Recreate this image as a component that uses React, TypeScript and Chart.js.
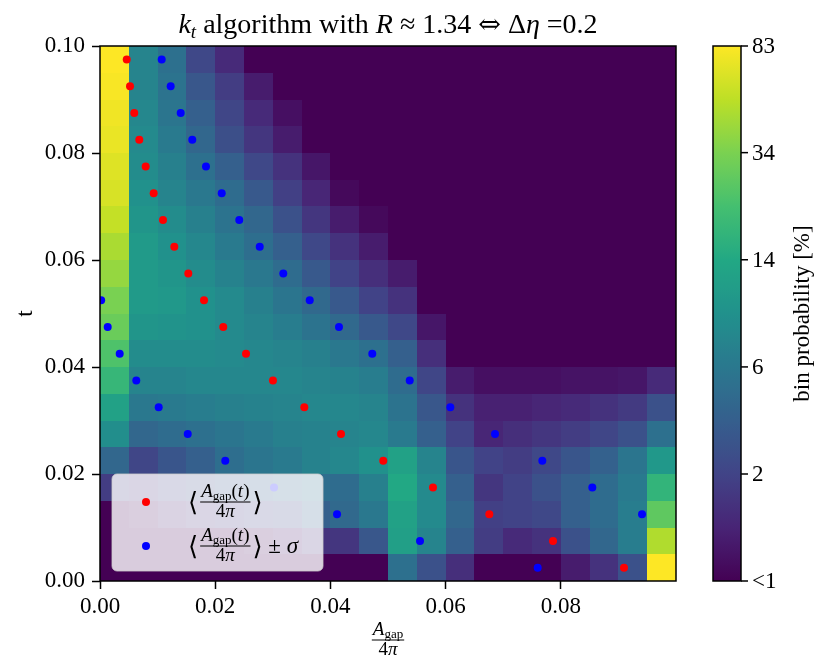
import React, { useEffect, useRef } from "react";
import { Chart, registerables } from "chart.js";

Chart.register(...registerables);

const SERIF = '"Liberation Serif", "DejaVu Serif", serif';

// bin edges of A_gap/4pi (x) and of t (y)
const aEdges = [
  0, 0.005, 0.01, 0.015, 0.02, 0.025, 0.03, 0.035, 0.04, 0.045, 0.05, 0.055,
  0.06, 0.065, 0.07, 0.075, 0.08, 0.085, 0.09, 0.095, 0.1,
];
const tEdges = [
  0, 0.005, 0.01, 0.015, 0.02, 0.025, 0.03, 0.035, 0.04, 0.045, 0.05, 0.055,
  0.06, 0.065, 0.07, 0.075, 0.08, 0.085, 0.09, 0.095, 0.1,
];

// t at the centre of each row, bottom to top
const tCenters = [
  0.0025, 0.0075, 0.0125, 0.0175, 0.0225, 0.0275, 0.0325, 0.0375, 0.0425,
  0.0475, 0.0525, 0.0575, 0.0625, 0.0675, 0.0725, 0.0775, 0.0825, 0.0875,
  0.0925, 0.0975,
];

// <A_gap(t)/4pi>
const meanA = [
  0.09097, 0.07865, 0.06759, 0.05781, 0.04918, 0.04184, 0.03547, 0.03003,
  0.02535, 0.0214, 0.01806, 0.01533, 0.0129, 0.01094, 0.00932, 0.00793,
  0.00682, 0.00595, 0.00521, 0.00464,
];
// <A_gap(t)/4pi> + sigma (null = outside the plot)
const upperA = [
  null, null, 0.0941, 0.08547, 0.07679, 0.06858, 0.06082, 0.05377, 0.04727,
  0.04149, 0.03641, 0.03182, 0.02773, 0.02418, 0.02113, 0.0184, 0.01602,
  0.01401, 0.01227, 0.01071,
];
// <A_gap(t)/4pi> - sigma (null = outside the plot)
const lowerA = [
  0.07599, 0.05556, 0.04115, 0.03021, 0.02175, 0.01523, 0.01019, 0.0063,
  0.00342, 0.00134, 0.0002, null, null, null, null, null, null, null, null,
  null,
];

// bin probability [%], one row per t bin, bottom to top
const binProb = [
  [0, 0, 0, 0, 0, 0, 0, 0, 0, 0, 5.1, 3.0, 1.8, 0, 0, 0, 1.4, 1.9, 3.0, 83],
  [0, 0, 0, 0, 0, 1.2, 1.4, 1.9, 2.0, 3.3, 11.9, 7.3, 3.8, 2.2, 1.7, 1.9, 3.0, 4.3, 6.4, 49],
  [0, 1.2, 1.6, 1.9, 2.1, 2.3, 2.6, 3.8, 4.5, 5.9, 12.4, 8.0, 4.3, 2.3, 2.4, 2.6, 3.8, 4.7, 6.4, 27.5],
  [2.2, 1.9, 2.4, 2.8, 3.2, 3.6, 4.1, 4.9, 4.7, 6.7, 14.2, 8.0, 3.8, 2.0, 2.4, 3.0, 3.8, 4.7, 6.1, 17.7],
  [4.3, 2.5, 3.2, 3.8, 4.9, 5.6, 6.1, 7.0, 7.6, 9.1, 12.4, 7.3, 3.2, 2.4, 2.2, 2.6, 3.2, 3.9, 5.6, 10.4],
  [8.7, 4.3, 4.7, 5.1, 5.6, 6.1, 6.7, 7.0, 7.3, 7.6, 6.1, 3.8, 2.4, 1.6, 1.8, 2.0, 2.2, 2.5, 3.0, 5.1],
  [12.4, 5.9, 6.1, 6.4, 6.7, 7.0, 7.3, 7.6, 7.6, 7.3, 5.4, 3.3, 1.9, 1.5, 1.5, 1.6, 1.7, 1.9, 2.1, 3.0],
  [18.5, 7.3, 7.3, 7.6, 7.6, 7.6, 7.6, 7.3, 7.0, 6.4, 4.7, 2.5, 1.4, 1.2, 1.2, 1.2, 1.25, 1.25, 1.3, 1.7],
  [24, 8.3, 8.3, 8.3, 8.0, 7.6, 7.3, 6.7, 5.9, 5.1, 3.8, 1.8, 0, 0, 0, 0, 0, 0, 0, 0],
  [30, 9.9, 9.5, 9.1, 8.0, 7.3, 6.4, 5.4, 4.5, 3.4, 2.6, 1.3, 0, 0, 0, 0, 0, 0, 0, 0],
  [34, 10.9, 10.4, 9.1, 8.0, 6.7, 5.6, 4.5, 3.4, 2.4, 1.9, 0, 0, 0, 0, 0, 0, 0, 0, 0],
  [41, 10.9, 9.9, 8.3, 7.0, 5.9, 4.7, 3.4, 2.4, 1.8, 1.4, 0, 0, 0, 0, 0, 0, 0, 0, 0],
  [47, 10.9, 9.1, 7.6, 6.1, 4.9, 3.8, 2.6, 1.9, 1.4, 0, 0, 0, 0, 0, 0, 0, 0, 0, 0],
  [56, 9.9, 8.3, 6.7, 5.4, 4.3, 3.0, 2.0, 1.4, 1.1, 0, 0, 0, 0, 0, 0, 0, 0, 0, 0],
  [64, 9.1, 7.3, 5.9, 4.7, 3.4, 2.3, 1.6, 1.1, 0, 0, 0, 0, 0, 0, 0, 0, 0, 0, 0],
  [67, 8.3, 6.7, 5.1, 3.8, 2.6, 1.9, 1.3, 0, 0, 0, 0, 0, 0, 0, 0, 0, 0, 0, 0],
  [73, 8.0, 6.1, 4.3, 2.9, 2.0, 1.4, 0, 0, 0, 0, 0, 0, 0, 0, 0, 0, 0, 0, 0],
  [76, 7.6, 5.6, 3.8, 2.5, 1.7, 1.2, 0, 0, 0, 0, 0, 0, 0, 0, 0, 0, 0, 0, 0],
  [80, 7.3, 5.4, 3.3, 2.2, 1.4, 0, 0, 0, 0, 0, 0, 0, 0, 0, 0, 0, 0, 0, 0],
  [83, 7.3, 5.1, 2.6, 1.7, 0, 0, 0, 0, 0, 0, 0, 0, 0, 0, 0, 0, 0, 0, 0],
];

const xTicks = [0, 0.02, 0.04, 0.06, 0.08];
const yTicks = [0, 0.02, 0.04, 0.06, 0.08, 0.1];
const cbTickValues = [1, 2.42, 5.86, 14.2, 34.4, 83];
const cbTickLabels = ["<1", "2", "6", "14", "34", "83"];
const PROB_MAX = 83;

const viridisStops = [
  [68, 1, 84], [72, 36, 117], [65, 68, 135], [53, 95, 141], [42, 120, 142],
  [33, 145, 140], [34, 168, 132], [68, 191, 112], [122, 209, 81],
  [189, 223, 38], [253, 231, 37],
];

function viridis(f: number) {
  const c = Math.min(1, Math.max(0, f)) * 10;
  const i = Math.min(9, Math.floor(c));
  const u = c - i;
  const a = viridisStops[i];
  const b = viridisStops[i + 1];
  const m = (k: number) => Math.round(a[k] + (b[k] - a[k]) * u);
  return `rgb(${m(0)},${m(1)},${m(2)})`;
}

const logScale = (p: number) => (p < 1 ? 0 : Math.log(p));
const probColor = (p: number) => viridis(logScale(p) / Math.log(PROB_MAX));

type Run = { text: string; font: string; dy?: number };

function runsWidth(ctx: CanvasRenderingContext2D, runs: Run[]) {
  let w = 0;
  for (const r of runs) {
    ctx.font = r.font;
    w += ctx.measureText(r.text).width;
  }
  return w;
}

function drawRuns(ctx: CanvasRenderingContext2D, runs: Run[], x: number, y: number, center = false) {
  let cx = center ? x - runsWidth(ctx, runs) / 2 : x;
  ctx.textAlign = "left";
  ctx.textBaseline = "alphabetic";
  for (const r of runs) {
    ctx.font = r.font;
    ctx.fillText(r.text, cx, y + (r.dy || 0));
    cx += ctx.measureText(r.text).width;
  }
  return cx;
}

function drawFrac(ctx: CanvasRenderingContext2D, cx: number, barY: number, num: Run[], den: Run[]) {
  const w = Math.max(runsWidth(ctx, num), runsWidth(ctx, den)) + 2;
  drawRuns(ctx, num, cx, barY - 5, true);
  drawRuns(ctx, den, cx, barY + 15, true);
  ctx.fillRect(cx - w / 2, barY - 0.5, w, 1);
  return w;
}

const it = (s: number) => `italic ${s}px ${SERIF}`;
const rm = (s: number) => `${s}px ${SERIF}`;

const agapNum: Run[] = [
  { text: "A", font: it(19) },
  { text: "gap", font: rm(13), dy: 3 },
  { text: "(", font: rm(19) },
  { text: "t", font: it(19) },
  { text: ")", font: rm(19) },
];
const fourPi: Run[] = [
  { text: "4", font: rm(19) },
  { text: "π", font: it(19) },
];

const heatmap = {
  id: "heatmap",
  beforeDatasetsDraw(chart: any) {
    const { ctx, scales } = chart;
    const { x, y } = scales;
    ctx.save();
    binProb.forEach((row, i) => {
      const y0 = Math.round(y.getPixelForValue(tEdges[i + 1]));
      const y1 = Math.round(y.getPixelForValue(tEdges[i]));
      row.forEach((p, j) => {
        const x0 = Math.round(x.getPixelForValue(aEdges[j]));
        const x1 = Math.round(x.getPixelForValue(aEdges[j + 1]));
        ctx.fillStyle = probColor(p);
        ctx.fillRect(x0, y0, x1 - x0, y1 - y0);
      });
    });
    ctx.restore();
  },
  afterDatasetsDraw(chart: any) {
    const { ctx, chartArea: a } = chart;
    ctx.save();
    ctx.strokeStyle = "#000";
    ctx.lineWidth = 1.5;
    ctx.strokeRect(a.left, a.top, a.right - a.left, a.bottom - a.top);
    ctx.restore();
  },
};

const decorations = {
  id: "decorations",
  afterDraw(chart: any) {
    const { ctx, chartArea: a, scales } = chart;
    const cb = scales.cb;
    ctx.save();
    ctx.fillStyle = "#000";

    // legend
    const lx = 112, ly = 474, lw = 211, lh = 97;
    ctx.beginPath();
    ctx.roundRect(lx, ly, lw, lh, 5);
    ctx.fillStyle = "rgba(255,255,255,0.8)";
    ctx.fill();
    ctx.strokeStyle = "rgba(204,204,204,0.8)";
    ctx.lineWidth = 1;
    ctx.stroke();
    const entries = [
      { color: "#ff0000", y: 502, pm: false },
      { color: "#0000ff", y: 546, pm: true },
    ];
    for (const e of entries) {
      ctx.fillStyle = e.color;
      ctx.beginPath();
      ctx.arc(146, e.y, 4, 0, Math.PI * 2);
      ctx.fill();
      ctx.fillStyle = "#000";
      let x = drawRuns(ctx, [{ text: "⟨", font: `26px "DejaVu Serif", serif` }], 188, e.y + 9);
      const w = Math.max(runsWidth(ctx, agapNum), runsWidth(ctx, fourPi)) + 2;
      drawFrac(ctx, x + 2 + w / 2, e.y, agapNum, fourPi);
      x = drawRuns(ctx, [{ text: "⟩", font: `26px "DejaVu Serif", serif` }], x + 4 + w, e.y + 9);
      if (e.pm) {
        drawRuns(ctx, [
          { text: " ± ", font: rm(23) },
          { text: "σ", font: it(23) },
        ], x, e.y + 7);
      }
    }

    // title
    const cx = (a.left + a.right) / 2;
    drawRuns(ctx, [
      { text: "k", font: it(28) },
      { text: "t", font: it(19), dy: 5 },
      { text: " algorithm with ", font: rm(28) },
      { text: "R", font: it(28) },
      { text: " ≈ 1.34 ", font: rm(28) },
      { text: "⇔", font: `27px "DejaVu Serif", serif` },
      { text: " Δ", font: rm(28) },
      { text: "η", font: it(28) },
      { text: " =0.2", font: rm(28) },
    ], cx, 33, true);

    // x axis label
    drawFrac(ctx, cx, 640, [
      { text: "A", font: it(19) },
      { text: "gap", font: rm(13), dy: 3 },
    ], fourPi);

    // y axis label
    ctx.save();
    ctx.translate(26, (a.top + a.bottom) / 2);
    ctx.rotate(-Math.PI / 2);
    ctx.font = rm(23);
    ctx.textAlign = "center";
    ctx.textBaseline = "middle";
    ctx.fillText("t", 0, 0);
    ctx.restore();

    // colour bar
    const bl = 713, br = 741;
    const vmax = Math.log(PROB_MAX);
    const pTop = cb.getPixelForValue(vmax);
    const pBot = cb.getPixelForValue(0);
    const grad = ctx.createLinearGradient(0, pBot, 0, pTop);
    for (let k = 0; k <= 40; k++) {
      grad.addColorStop(k / 40, viridis(k / 40));
    }
    ctx.fillStyle = grad;
    ctx.fillRect(bl, pTop, br - bl, pBot - pTop);
    ctx.strokeStyle = "#000";
    ctx.lineWidth = 1.5;
    ctx.strokeRect(bl, cb.top, br - bl, cb.bottom - cb.top);
    ctx.fillStyle = "#000";
    ctx.font = rm(23);
    ctx.textAlign = "left";
    ctx.textBaseline = "middle";
    cbTickValues.forEach((v, k) => {
      const py = cb.getPixelForValue(logScale(v));
      ctx.beginPath();
      ctx.moveTo(br, py);
      ctx.lineTo(br + 7, py);
      ctx.stroke();
      ctx.fillText(cbTickLabels[k], br + 11, py + 1);
    });
    ctx.save();
    ctx.translate(803, (cb.top + cb.bottom) / 2);
    ctx.rotate(-Math.PI / 2);
    ctx.textAlign = "center";
    ctx.fillText("bin probability [%]", 0, 0);
    ctx.restore();

    ctx.restore();
  },
};

const pointsOf = (xs: (number | null)[]) =>
  xs
    .map((v, i) => (v === null ? null : { x: v, y: tCenters[i] }))
    .filter((p) => p !== null);

const App = () => {
  const chartRef = useRef<HTMLCanvasElement | null>(null);
  const chartInstanceRef = useRef<Chart | null>(null);

  useEffect(() => {
    const ctx = chartRef.current?.getContext("2d");
    if (chartInstanceRef.current) {
      chartInstanceRef.current.destroy();
    }
    if (ctx) {
      const tickFont = { family: SERIF, size: 23 };
      chartInstanceRef.current = new Chart(ctx, {
        type: "scatter",
        data: {
          datasets: [
            {
              label: "<A_gap(t)/4pi>",
              data: pointsOf(meanA) as any,
              backgroundColor: "#ff0000",
              pointRadius: 4,
              pointBorderWidth: 0,
              clip: 0,
            },
            {
              label: "<A_gap(t)/4pi> ± sigma",
              data: [...pointsOf(lowerA), ...pointsOf(upperA)] as any,
              backgroundColor: "#0000ff",
              pointRadius: 4,
              pointBorderWidth: 0,
              clip: 0,
            },
          ],
        },
        plugins: [heatmap, decorations],
        options: {
          animation: false,
          responsive: false,
          devicePixelRatio: window.devicePixelRatio || 1,
          layout: { padding: { top: 46, right: 154, bottom: 0, left: 0 } },
          plugins: {
            legend: { display: false },
            title: { display: false },
            tooltip: { enabled: false },
          },
          scales: {
            x: {
              type: "linear",
              min: 0,
              max: 0.1,
              afterBuildTicks: (s: any) => {
                s.ticks = xTicks.map((v) => ({ value: v }));
              },
              afterFit: (s: any) => {
                s.height = 91;
              },
              border: { display: false },
              grid: {
                drawOnChartArea: false,
                drawTicks: true,
                tickLength: 8,
                tickColor: "#000",
                tickWidth: 1.5,
              },
              ticks: {
                color: "#000",
                font: tickFont,
                padding: 4,
                maxRotation: 0,
                callback: (v: any) => Number(v).toFixed(2),
              },
            },
            y: {
              type: "linear",
              min: 0,
              max: 0.1,
              afterBuildTicks: (s: any) => {
                s.ticks = yTicks.map((v) => ({ value: v }));
              },
              afterFit: (s: any) => {
                s.width = 100;
              },
              border: { display: false },
              grid: {
                drawOnChartArea: false,
                drawTicks: true,
                tickLength: 8,
                tickColor: "#000",
                tickWidth: 1.5,
              },
              ticks: {
                color: "#000",
                font: tickFont,
                padding: 7,
                callback: (v: any) => Number(v).toFixed(2),
              },
            },
            cb: {
              type: "linear",
              axis: "y",
              position: "right",
              display: false,
              min: 0,
              max: Math.log(PROB_MAX),
            },
          },
        },
      } as any);
    }
    return () => {
      if (chartInstanceRef.current) {
        chartInstanceRef.current.destroy();
        chartInstanceRef.current = null;
      }
    };
  }, []);

  return (
    <div style={{ position: "fixed", left: 0, top: 0, width: 830, height: 672, background: "#fff" }}>
      <canvas ref={chartRef} width={830} height={672} style={{ display: "block" }}></canvas>
    </div>
  );
};

export default App;
